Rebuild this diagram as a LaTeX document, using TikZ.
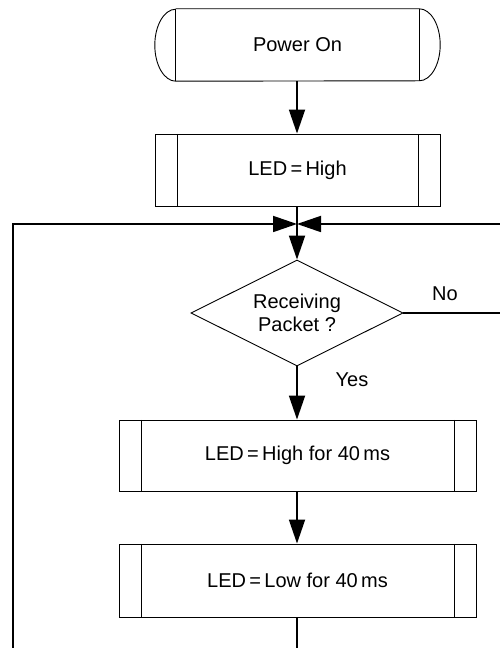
\documentclass[tikz,border=0pt]{standalone}
\usepackage{fontspec}
\setmainfont{Liberation Sans}
\usetikzlibrary{arrows.meta,shapes.geometric,calc}
\tikzset{
  every node/.style={font=\fontsize{20}{23}\selectfont},
  shapeline/.style={draw=black, line width=0.9pt},
  procbox/.style={shapeline, rectangle, inner sep=0pt, fill=white,
    path picture={
      \draw[line width=0.9pt] ([xshift=22pt]path picture bounding box.north west) -- ([xshift=22pt]path picture bounding box.south west);
      \draw[line width=0.9pt] ([xshift=-22pt]path picture bounding box.north east) -- ([xshift=-22pt]path picture bounding box.south east);
    }},
  termbox/.style={rectangle, inner sep=0pt, minimum width=243pt, minimum height=72pt},
  decision/.style={shapeline, diamond, aspect=2, inner sep=0pt, minimum width=212pt, minimum height=106pt, fill=white, align=center},
  conn/.style={draw=black, line width=1.8pt},
  arr/.style={conn, -{Triangle[length=24pt,width=16pt]}},
  lbl/.style={inner sep=0pt}
}
\begin{document}
\begin{tikzpicture}[x=1pt,y=1pt]
\useasboundingbox (0,0) rectangle (500,648);
\fill[white] (0,0) rectangle (500,648);
% terminal
\node[termbox] (pw) at (297.5,603) {Power On};
\draw[shapeline] (pw.north west) -- (pw.north east)
  arc[start angle=90, end angle=-90, x radius=21pt, y radius=36pt]
  -- (pw.south west)
  arc[start angle=-90, end angle=-270, x radius=21pt, y radius=36pt];
\draw[shapeline] (pw.north west) -- (pw.south west);
\draw[shapeline] (pw.north east) -- (pw.south east);
% processes
\node[procbox, minimum width=285pt, minimum height=72pt] (led1) at (297.5,478) {LED\,=\,High};
\node[decision] (dm) at (297,335) {Receiving\\Packet ?};
\node[procbox, minimum width=357pt, minimum height=71pt] (led2) at (297.5,192.5) {LED\,=\,High for 40\,ms};
\node[procbox, minimum width=357pt, minimum height=73pt] (led3) at (297.5,67.5) {LED\,=\,Low for 40\,ms};
% labels
\node[lbl] (no) at (445,354) {No};
\node[lbl] (yes) at (352,268) {Yes};
% coordinates
\coordinate (m) at (297,424);
\coordinate (bl) at (13,0);
\coordinate (bc) at (297,0);
\coordinate (re) at (501,335);
\coordinate (rt) at (501,424);
% connectors
\draw[arr] (pw.south -| 297,0) -- (led1.north -| 297,0);
\draw[conn] (led1.south -| m) -- (m);
\draw[arr] (m) -- (dm.north);
\draw[arr] (bl) |- (m);
\draw[arr] (rt) -- (m);
\draw[conn] (dm.east) -- (re);
\draw[arr] (dm.south) -- (led2.north -| dm.south);
\draw[arr] (led2.south -| dm.south) -- (led3.north -| dm.south);
\draw[conn] ($(led3.south -| bc)+(0,-1)$) -- (bc);
\end{tikzpicture}
\end{document}
